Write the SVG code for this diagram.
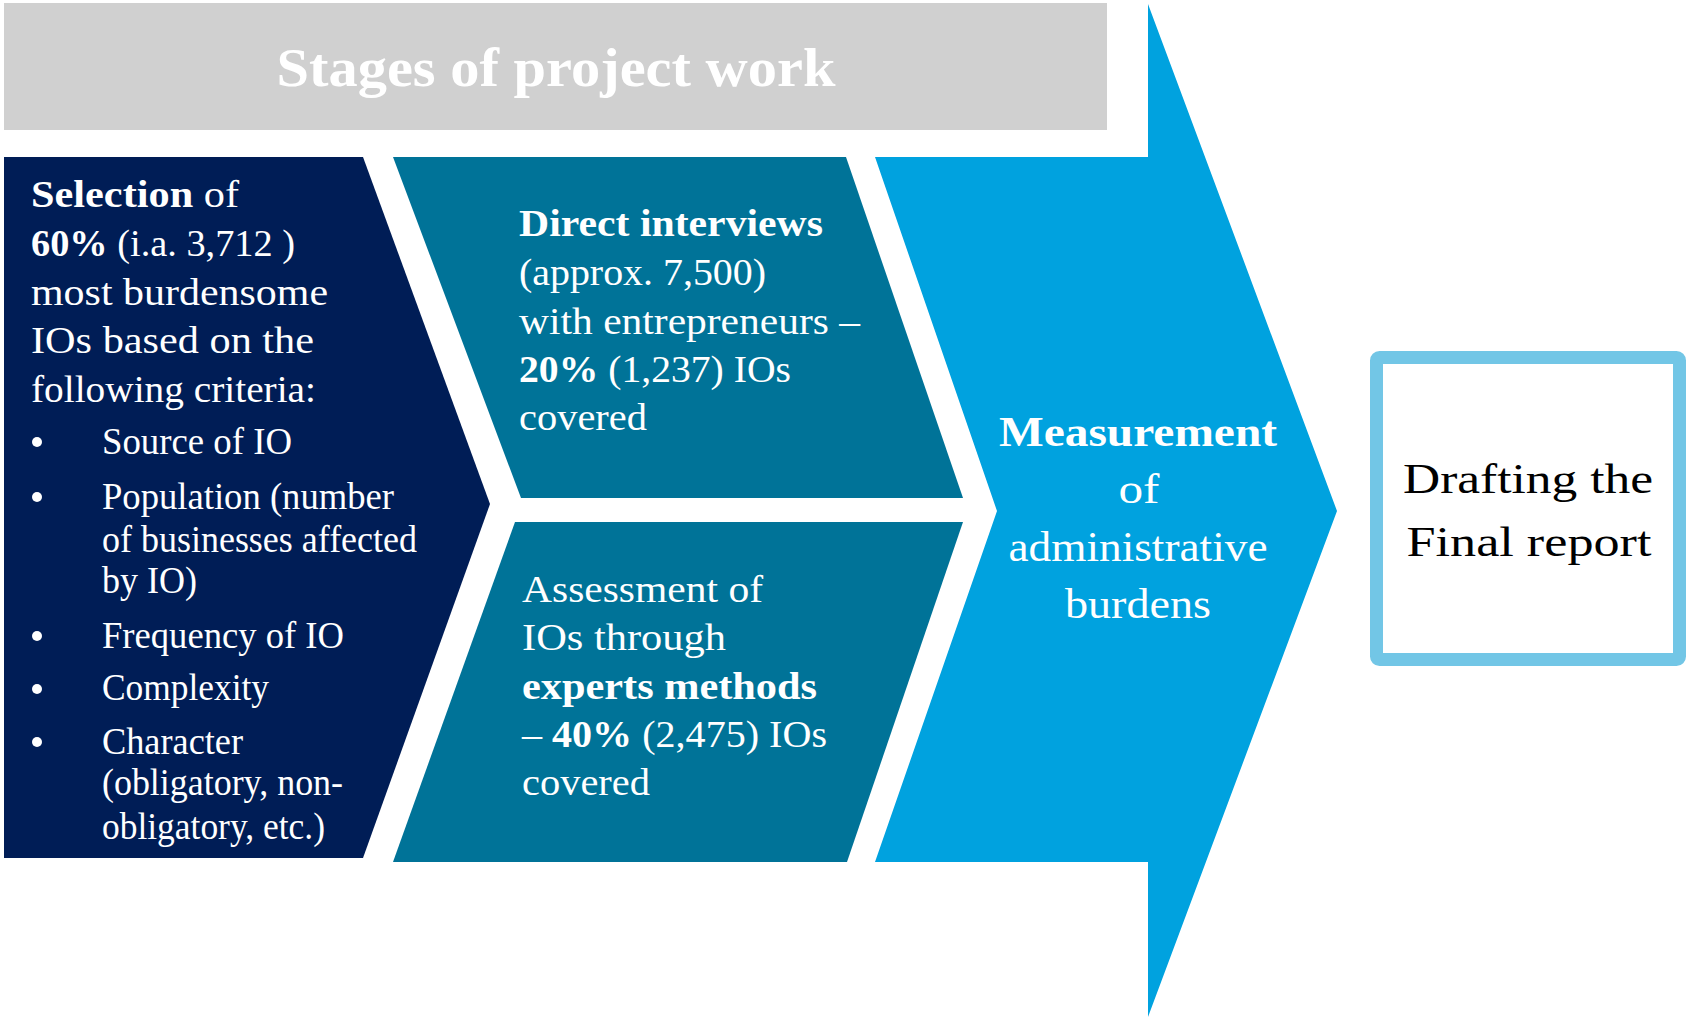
<svg xmlns="http://www.w3.org/2000/svg" width="1688" height="1019" viewBox="0 0 1688 1019">
  <style>
    .t { font-family: "Liberation Serif", "Times New Roman", serif; fill: #ffffff; font-size: 37px; }
    .b { font-weight: bold; }
    .title { font-size: 54px; font-weight: bold; text-anchor: middle; }
    .meas { font-size: 42px; text-anchor: middle; }
    .final { font-family: "Liberation Serif", "Times New Roman", serif; fill: #000000; font-size: 43px; text-anchor: middle; }
  </style>
  <rect width="1688" height="1019" fill="#ffffff"/>

  <!-- heading banner -->
  <g id="header">
    <rect x="4" y="3" width="1103" height="127" fill="#D0D0D0"/>
    <text class="t title" x="556" y="86" textLength="559" lengthAdjust="spacingAndGlyphs">Stages of  project work</text>
  </g>

  <!-- stage 1: selection -->
  <g id="selection">
    <polygon points="4,157 363,157 490,504 363,858 4,858" fill="#001D56"/>
    <text class="t" x="31" y="207" textLength="208" lengthAdjust="spacingAndGlyphs"><tspan class="b">Selection</tspan> of</text>
    <text class="t" x="31" y="256" textLength="264" lengthAdjust="spacingAndGlyphs"><tspan class="b">60%</tspan> (i.a. 3,712 )</text>
    <text class="t" x="31" y="305" textLength="297" lengthAdjust="spacingAndGlyphs">most burdensome</text>
    <text class="t" x="31" y="353" textLength="283" lengthAdjust="spacingAndGlyphs">IOs based on the</text>
    <text class="t" x="31" y="402" textLength="285" lengthAdjust="spacingAndGlyphs">following criteria:</text>
    <g fill="#ffffff">
      <circle cx="37" cy="442" r="5"/>
      <circle cx="37" cy="497" r="5"/>
      <circle cx="37" cy="636" r="5"/>
      <circle cx="37" cy="689" r="5"/>
      <circle cx="37" cy="742" r="5"/>
    </g>
    <text class="t" x="102" y="454" textLength="190" lengthAdjust="spacingAndGlyphs">Source of IO</text>
    <text class="t" x="102" y="509" textLength="292" lengthAdjust="spacingAndGlyphs">Population (number</text>
    <text class="t" x="102" y="552" textLength="315" lengthAdjust="spacingAndGlyphs">of businesses affected</text>
    <text class="t" x="102" y="593" textLength="95" lengthAdjust="spacingAndGlyphs">by IO)</text>
    <text class="t" x="102" y="648" textLength="242" lengthAdjust="spacingAndGlyphs">Frequency of IO</text>
    <text class="t" x="102" y="700" textLength="167" lengthAdjust="spacingAndGlyphs">Complexity</text>
    <text class="t" x="102" y="754" textLength="141" lengthAdjust="spacingAndGlyphs">Character</text>
    <text class="t" x="102" y="795" textLength="241" lengthAdjust="spacingAndGlyphs">(obligatory, non-</text>
    <text class="t" x="102" y="839" textLength="223" lengthAdjust="spacingAndGlyphs">obligatory, etc.)</text>
  </g>

  <!-- stage 2a: direct interviews -->
  <g id="interviews">
    <polygon points="393,157 846,157 963,498 521,498" fill="#007398"/>
    <text class="t" x="519" y="236" textLength="304" lengthAdjust="spacingAndGlyphs"><tspan class="b">Direct interviews</tspan></text>
    <text class="t" x="519" y="285" textLength="247" lengthAdjust="spacingAndGlyphs">(approx. 7,500)</text>
    <text class="t" x="519" y="334" textLength="341" lengthAdjust="spacingAndGlyphs">with entrepreneurs –</text>
    <text class="t" x="519" y="382" textLength="272" lengthAdjust="spacingAndGlyphs"><tspan class="b">20%</tspan> (1,237) IOs</text>
    <text class="t" x="519" y="430" textLength="128" lengthAdjust="spacingAndGlyphs">covered</text>
  </g>

  <!-- stage 2b: expert assessment -->
  <g id="experts">
    <polygon points="515,522 963,522 847,862 393,862" fill="#007398"/>
    <text class="t" x="522" y="602" textLength="241" lengthAdjust="spacingAndGlyphs">Assessment of</text>
    <text class="t" x="522" y="650" textLength="204" lengthAdjust="spacingAndGlyphs">IOs through</text>
    <text class="t" x="522" y="699" textLength="295" lengthAdjust="spacingAndGlyphs"><tspan class="b">experts methods</tspan></text>
    <text class="t" x="522" y="747" textLength="305" lengthAdjust="spacingAndGlyphs">– <tspan class="b">40%</tspan> (2,475) IOs</text>
    <text class="t" x="522" y="795" textLength="128" lengthAdjust="spacingAndGlyphs">covered</text>
  </g>

  <!-- stage 3: measurement arrow -->
  <g id="measurement">
    <polygon points="875,157 1148,157 1148,4 1337,511 1148,1017 1148,862 875,862 997,511" fill="#00A2DF"/>
    <text class="t meas b" x="1138" y="446" textLength="278" lengthAdjust="spacingAndGlyphs">Measurement</text>
    <text class="t meas" x="1139" y="503" textLength="41" lengthAdjust="spacingAndGlyphs">of</text>
    <text class="t meas" x="1138" y="561" textLength="259" lengthAdjust="spacingAndGlyphs">administrative</text>
    <text class="t meas" x="1138" y="618" textLength="146" lengthAdjust="spacingAndGlyphs">burdens</text>
  </g>

  <!-- stage 4: final report -->
  <g id="final-report">
    <rect x="1376.5" y="357.5" width="303" height="302" rx="3" fill="#ffffff" stroke="#72C6E6" stroke-width="13"/>
    <text class="final" x="1528" y="493" textLength="250" lengthAdjust="spacingAndGlyphs">Drafting the</text>
    <text class="final" x="1529" y="556" textLength="245" lengthAdjust="spacingAndGlyphs">Final report</text>
  </g>

  <!-- no connectors: stages abut as chevrons -->
  <g id="connectors"/>
</svg>
